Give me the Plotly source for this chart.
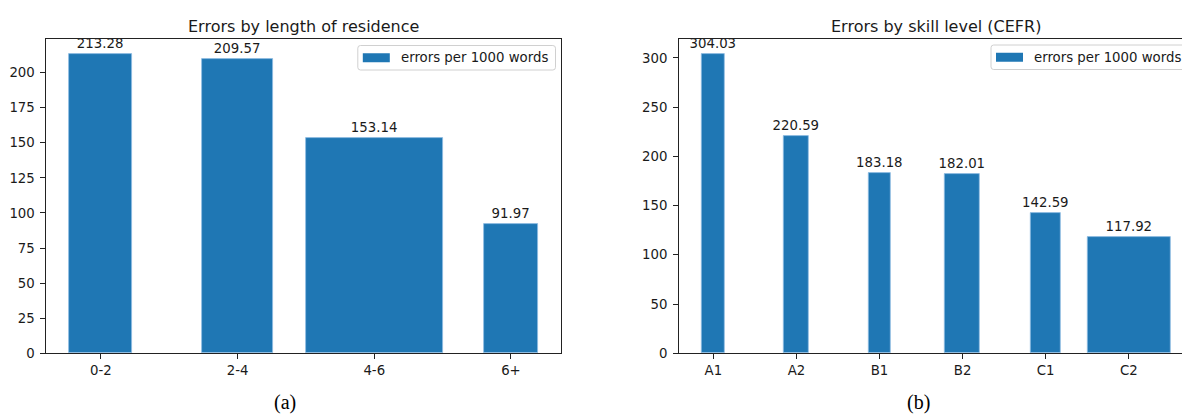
import plotly.graph_objects as go

# Errors per 1000 words by length of residence (years)
residence = ["0-2", "2-4", "4-6", "6+"]
residence_errors = [213.28, 209.57, 153.14, 91.97]
residence_widths = [0.46, 0.52, 1.0, 0.39]

# Errors per 1000 words by CEFR skill level
cefr = ["A1", "A2", "B1", "B2", "C1", "C2"]
cefr_errors = [304.03, 220.59, 183.18, 182.01, 142.59, 117.92]
cefr_widths = [0.27, 0.30, 0.27, 0.42, 0.37, 1.0]

res_ticks = [0, 25, 50, 75, 100, 125, 150, 175, 200]
cefr_ticks = [0, 50, 100, 150, 200, 250, 300]

series_name = "errors per 1000 words"

FIG_W, FIG_H = 1182, 415
BAR_COLOR = "#1f77b4"
TEXT = "#1a1a1a"
FONT = "DejaVu Sans"
AX_W = 515  # panel width in px
LEFT_X0 = 46
RIGHT_X0 = 678.7
Y_TOP, Y_BOT = 39, 353.3


def x_limits(widths):
    lo = -widths[0] / 2
    hi = len(widths) - 1 + widths[-1] / 2
    m = 0.05 * (hi - lo)
    return lo - m, hi + m


def px_x(p):
    return p / FIG_W


def px_y(p):
    return (FIG_H - p) / FIG_H


def rounded_rect(x0, y0, x1, y1, r):
    """SVG path (paper coords) of a rounded rectangle given in pixels."""
    rx, ry = r / FIG_W, r / FIG_H
    X0, X1 = px_x(x0), px_x(x1)
    Yt, Yb = px_y(y0), px_y(y1)
    return (f"M{X0 + rx},{Yt} L{X1 - rx},{Yt} Q{X1},{Yt} {X1},{Yt - ry} "
            f"L{X1},{Yb + ry} Q{X1},{Yb} {X1 - rx},{Yb} "
            f"L{X0 + rx},{Yb} Q{X0},{Yb} {X0},{Yb + ry} "
            f"L{X0},{Yt - ry} Q{X0},{Yt} {X0 + rx},{Yt} Z")


fig = go.Figure()

bar_style = dict(
    marker_color=BAR_COLOR,
    marker_line=dict(color="#8fbde2", width=0.8),
    texttemplate="%{y:.2f}", textposition="outside",
    textfont=dict(family=FONT, size=13.3, color=TEXT),
    constraintext="none", cliponaxis=False, showlegend=False,
)

fig.add_trace(go.Bar(x=residence, y=residence_errors, width=residence_widths,
                     name=series_name, xaxis="x", yaxis="y", **bar_style))
fig.add_trace(go.Bar(x=cefr, y=cefr_errors, width=cefr_widths,
                     name=series_name, xaxis="x2", yaxis="y2", **bar_style))

lx0, lx1 = x_limits(residence_widths)
rx0, rx1 = x_limits(cefr_widths)
# right panel runs past the page edge; show only the visible part
visible = (FIG_W - RIGHT_X0) / AX_W
rx1_vis = rx0 + (rx1 - rx0) * visible

axis_common = dict(
    showline=True, linecolor="#222222", linewidth=1.1,
    ticks="outside", ticklen=4.5, tickwidth=1.1, tickcolor="#222222",
    showgrid=False, zeroline=False,
    tickfont=dict(family=FONT, size=13.3, color=TEXT),
)

fig.update_layout(
    width=FIG_W, height=FIG_H,
    margin=dict(l=0, r=0, t=0, b=0, autoexpand=False),
    paper_bgcolor="white", plot_bgcolor="white",
    bargap=0, showlegend=False,
    xaxis=dict(**axis_common, domain=[px_x(LEFT_X0), px_x(LEFT_X0 + AX_W)],
               range=[lx0, lx1], type="category", mirror=True,
               anchor="y"),
    yaxis=dict(**axis_common, domain=[px_y(Y_BOT), px_y(Y_TOP)],
               range=[0, max(residence_errors) * 1.05], mirror=True,
               tickvals=res_ticks, ticklabelstandoff=3, anchor="x"),
    xaxis2=dict(**axis_common, domain=[px_x(RIGHT_X0), 1.0],
                range=[rx0, rx1_vis], type="category", mirror=True,
                anchor="y2"),
    yaxis2=dict(**axis_common, domain=[px_y(Y_BOT), px_y(Y_TOP)],
                range=[0, max(cefr_errors) * 1.05], mirror=False,
                tickvals=cefr_ticks, ticklabelstandoff=3, anchor="x2"),
)

# Legend boxes (one per panel): frame, colour swatch and label
for box_x0, box_x1, box_y0, box_y1 in ((357.8, 555.5, 45.5, 70.0),
                                       (991.0, 1186.0, 45.0, 69.5)):
    fig.add_shape(type="path", xref="paper", yref="paper",
                  path=rounded_rect(box_x0, box_y0, box_x1, box_y1, 2.7),
                  fillcolor="rgba(255,255,255,0.8)",
                  line=dict(color="#d0d0d0", width=1), layer="above")
    mid = (box_y0 + box_y1) / 2
    fig.add_shape(type="rect", xref="paper", yref="paper",
                  x0=px_x(box_x0 + 5), x1=px_x(box_x0 + 32),
                  y0=px_y(mid + 4.5), y1=px_y(mid - 4.5),
                  fillcolor=BAR_COLOR, line=dict(width=0), layer="above")
    fig.add_annotation(text=series_name, xref="paper", yref="paper",
                       x=px_x(box_x0 + 41), y=px_y(mid), xanchor="left",
                       yanchor="middle", showarrow=False,
                       font=dict(family=FONT, size=13.3, color=TEXT))

# Panel titles
fig.add_annotation(
    text="Errors by length of residence", xref="paper", yref="paper",
    x=px_x(LEFT_X0 + AX_W / 2), y=px_y(26), xanchor="center", yanchor="middle",
    showarrow=False, font=dict(family=FONT, size=16, color=TEXT),
)
fig.add_annotation(
    text="Errors by skill level (CEFR)", xref="paper", yref="paper",
    x=px_x(RIGHT_X0 + AX_W / 2), y=px_y(26), xanchor="center", yanchor="middle",
    showarrow=False, font=dict(family=FONT, size=16, color=TEXT),
)

# Sub-figure captions, sitting on the bottom edge of the page
for label, cx in (("(a)", 285), ("(b)", 918)):
    fig.add_annotation(
        text=label, xref="paper", yref="paper",
        x=px_x(cx), y=0, xanchor="center", yanchor="bottom",
        showarrow=False, borderpad=0,
        font=dict(family="Liberation Serif", size=20, color="black"),
    )

fig.write_html("out.html")
